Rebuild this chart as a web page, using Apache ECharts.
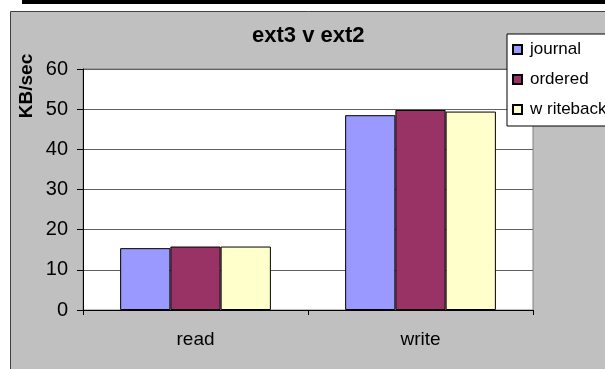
<!DOCTYPE html>
<html>
<head>
<meta charset="utf-8">
<script src="https://cdn.jsdelivr.net/npm/echarts@6/dist/echarts.min.js"></script>
<style>
  html, body { margin: 0; padding: 0; background: #fff; }
  #main { width: 605px; height: 369px; }
</style>
</head>
<body>
<div id="main"></div>
<script>
// data
var categories = ['read', 'write'];
var journal = [15.4, 48.5];
var ordered = [15.8, 49.8];
var writeback = [15.8, 49.4];
var seriesNames = ['journal', 'ordered', 'w riteback'];
var seriesColors = ['#9999ff', '#993366', '#ffffcc'];

var font = 'Liberation Sans, Arial, sans-serif';

function bar(name, values, color) {
    return {
        name: name,
        type: 'bar',
        data: values,
        barGap: '0%',
        barCategoryGap: '33%',
        itemStyle: { color: color, borderColor: '#000', borderWidth: 1 },
        emphasis: { disabled: true },
        animation: false
    };
}

var chart = echarts.init(document.getElementById('main'));

var option = {
    backgroundColor: '#fff',
    animation: false,
    title: {
        text: 'ext3 v ext2',
        left: 252,
        top: 25,
        padding: 0,
        textStyle: { fontFamily: font, fontSize: 22, fontWeight: 'bold', color: '#000' }
    },
    graphic: [
        // black rule at the top
        { type: 'rect', shape: { x: 22, y: 0, width: 600, height: 4 }, style: { fill: '#000' }, z: -10 },
        // grey chart panel
        { type: 'rect', shape: { x: 10.5, y: 11.5, width: 620, height: 380 },
          style: { fill: '#c0c0c0', stroke: '#404040', lineWidth: 1 }, z: -10 },
        // y axis title
        { type: 'text', x: 27, y: 86, rotation: Math.PI / 2,
          style: { text: 'KB/sec', fill: '#000', font: 'bold 19px ' + font,
                   textAlign: 'center', textVerticalAlign: 'middle' } }
    ],
    legend: {
        orient: 'vertical',
        left: 507,
        top: 34,
        data: seriesNames,
        itemWidth: 9,
        itemHeight: 9,
        itemGap: 13,
        padding: [7, 40, 8, 5],
        backgroundColor: '#fff',
        borderColor: '#000',
        borderWidth: 1,
        borderRadius: 0,
        icon: 'rect',
        textStyle: { fontFamily: font, fontSize: 17, color: '#000', padding: [0, 0, 0, 3] }
    },
    grid: {
        left: 83, right: 72, top: 69, bottom: 59,
        show: true,
        backgroundColor: '#fff',
        borderColor: '#808080',
        borderWidth: 1
    },
    xAxis: {
        type: 'category',
        data: categories,
        axisLine: { lineStyle: { color: '#000', width: 1 } },
        axisTick: { show: true, length: 5, lineStyle: { color: '#000' } },
        axisLabel: { fontFamily: font, fontSize: 19, color: '#000', margin: 20 }
    },
    yAxis: {
        type: 'value',
        min: 0,
        max: 60,
        interval: 10,
        axisLine: { show: true, lineStyle: { color: '#000', width: 1 } },
        axisTick: { show: true, length: 6, lineStyle: { color: '#000' } },
        axisLabel: { fontFamily: font, fontSize: 20, color: '#000', margin: 15 },
        splitLine: { show: true, lineStyle: { color: '#606060', width: 1 } }
    },
    series: [
        bar(seriesNames[0], journal, seriesColors[0]),
        bar(seriesNames[1], ordered, seriesColors[1]),
        bar(seriesNames[2], writeback, seriesColors[2])
    ]
};

chart.setOption(option);
</script>
</body>
</html>
